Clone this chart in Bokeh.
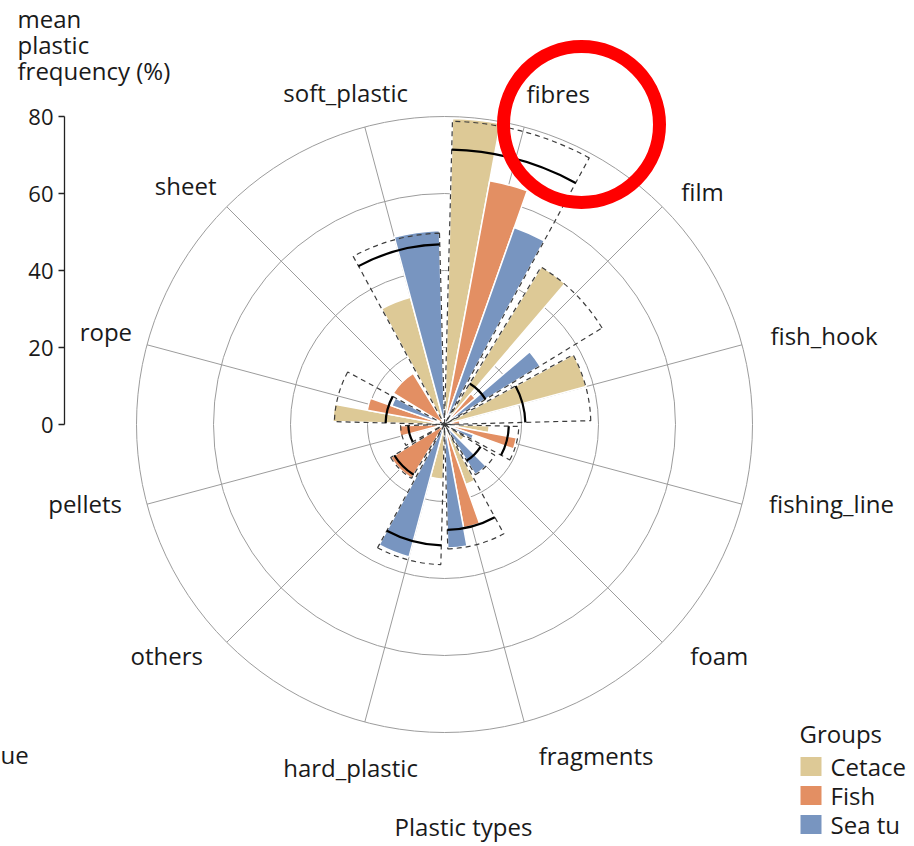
import math
from bokeh.plotting import figure
from bokeh.models import ColumnDataSource, Range1d
from bokeh.core.properties import value
from bokeh.embed import file_html
from bokeh.resources import INLINE

# ---------------- data ----------------
categories = ["fibres", "film", "fish_hook", "fishing_line", "foam", "fragments",
              "hard_plastic", "others", "pellets", "rope", "sheet", "soft_plastic"]
groups = ["Cetaceans", "Fish", "Sea turtles"]
legend_labels = ["Cetace", "Fish", "Sea tu"]      # as visible (cropped) in the reference
nan = float("nan")
cetaceans   = [79.5, 48.2, 38.1, 11.6, 6.0, 16.5, 14.2, nan, 3.0, 29.0, nan, 34.2]
fish        = [64.4, 10.5, 4.0, 19.0, nan, 27.3, nan, 16.4, 11.8, 20.4, 15.6, nan]
sea_turtles = [54.3, 29.1, nan, 8.0, 15.3, 32.1, 35.6, nan, nan, 14.5, nan, 50.4]
overall_mean = [71.4, 12.5, 21.0, 16.7, 11.0, 27.4, 31.4, 15.3, 9.4, 15.3, nan, 46.8]
upper_value  = [78.8, 48.0, 38.0, 19.3, 15.3, 32.3, 36.4, 16.4, 11.4, 28.6, nan, 49.7]
radial_ticks = [0, 20, 40, 60, 80]
axis_title = ["mean", "plastic", "frequency (%)"]

# ---------------- layout / style ----------------
W, H = 912, 846
S = 3.85                      # px per percent
CX, CY = 444.0, 424.0         # pole position on the canvas (px)
FONT = "Open Sans"
TXT = "#1a1a1a"
COLORS = {"Cetaceans": "#DDC996", "Fish": "#E38F63", "Sea turtles": "#7895C0"}
SECTOR, PAD = 30.0, 1.5
# category label placement: (compass angle, radius px, alignment)
LABEL_POS = [(13.9, 341, "left"), (45.5, 332, "left"), (74.7, 338, "left"),
             (103.7, 334, "left"), (133.2, 337, "left"), (164.1, 344, "left"),
             (195.3, 356, "center"), (226.3, 334, "right"), (256.3, 332, "right"),
             (286.6, 326, "right"), (316.3, 330, "right"), (343.4, 346, "center")]


def bk(c):
    """compass degrees (clockwise from north) -> bokeh radians"""
    return math.radians(90.0 - c)


def px(xp, yp):
    """canvas pixel position -> data coordinates"""
    return (xp - CX) / S, (CY - yp) / S


p = figure(width=W, height=H, output_backend="svg", toolbar_location=None,
           x_range=Range1d(-CX / S, (W - CX) / S),
           y_range=Range1d(-(H - CY) / S, CY / S),
           min_border=0, x_axis_location=None, y_axis_location=None)
p.grid.visible = False
p.outline_line_color = None
p.background_fill_color = "white"
p.border_fill_color = "white"

# grid circles and spokes
rmax = radial_ticks[-1]
p.circle(x=[0] * (len(radial_ticks) - 1), y=[0] * (len(radial_ticks) - 1),
         radius=radial_ticks[1:], fill_color=None, line_color="#9c9c9c", line_width=1)
spoke_angles = [SECTOR * k + SECTOR / 2 for k in range(len(categories))]
p.segment(x0=[0] * len(spoke_angles), y0=[0] * len(spoke_angles),
          x1=[rmax * math.sin(math.radians(a)) for a in spoke_angles],
          y1=[rmax * math.cos(math.radians(a)) for a in spoke_angles],
          line_color="#9c9c9c", line_width=1)

# bars
series = {"Cetaceans": cetaceans, "Fish": fish, "Sea turtles": sea_turtles}
bars = {g: dict(x=[], y=[], r=[], a0=[], a1=[]) for g in groups}
for k, cat in enumerate(categories):
    present = [g for g in groups if not math.isnan(series[g][k])]
    n = len(present)
    w = (SECTOR - 2 * PAD) / n
    for i, g in enumerate(present):
        c1 = SECTOR * k + PAD + i * w
        c2 = c1 + w
        bars[g]["x"].append(0)
        bars[g]["y"].append(0)
        bars[g]["r"].append(series[g][k])
        bars[g]["a0"].append(bk(c2))
        bars[g]["a1"].append(bk(c1))

renderers = {}
for g in groups:
    renderers[g] = p.wedge(x="x", y="y", radius="r", start_angle="a0", end_angle="a1",
                           direction="anticlock", source=ColumnDataSource(bars[g]),
                           fill_color=COLORS[g], line_color="white", line_width=1.5)

# dashed upper boxes and mean arcs
box = dict(x=[], y=[], r=[], a0=[], a1=[])
arc = dict(x=[], y=[], r=[], a0=[], a1=[])
for k in range(len(categories)):
    a0, a1 = bk(SECTOR * k + SECTOR - PAD), bk(SECTOR * k + PAD)
    if not math.isnan(upper_value[k]):
        for key, v in zip(["x", "y", "r", "a0", "a1"], [0, 0, upper_value[k], a0, a1]):
            box[key].append(v)
    if not math.isnan(overall_mean[k]):
        for key, v in zip(["x", "y", "r", "a0", "a1"], [0, 0, overall_mean[k], a0, a1]):
            arc[key].append(v)
p.wedge(x="x", y="y", radius="r", start_angle="a0", end_angle="a1", direction="anticlock",
        source=ColumnDataSource(box), fill_color=None, line_color="#3c3c3c",
        line_width=1.2, line_dash="5 4")
p.arc(x="x", y="y", radius="r", start_angle="a0", end_angle="a1", direction="anticlock",
      source=ColumnDataSource(arc), line_color="black", line_width=2.2)

# category labels
for align in ["left", "center", "right"]:
    xs, ys, ts = [], [], []
    for cat, (ang, rpx, al) in zip(categories, LABEL_POS):
        if al == align:
            xs.append(rpx / S * math.sin(math.radians(ang)))
            ys.append(rpx / S * math.cos(math.radians(ang)))
            ts.append(cat)
    p.text(x=xs, y=ys, text=ts, text_font=value(FONT), text_font_size="24px",
           text_color=TXT, text_align=align, text_baseline="middle")

# radial axis on the left
AXX = px(64, 0)[0]
p.segment(x0=[AXX], y0=[radial_ticks[0]], x1=[AXX], y1=[radial_ticks[-1]],
          line_color="#222222", line_width=1.3)
p.segment(x0=[AXX - 6 / S] * len(radial_ticks), y0=radial_ticks,
          x1=[AXX] * len(radial_ticks), y1=radial_ticks, line_color="#222222", line_width=1.3)
p.text(x=[AXX - 11 / S] * len(radial_ticks), y=radial_ticks, text=[str(t) for t in radial_ticks],
       text_font=value(FONT), text_font_size="22px", text_color=TXT,
       text_align="right", text_baseline="middle")
tx, _ = px(17, 0)
p.text(x=[tx] * 3, y=[px(0, 18)[1], px(0, 44)[1], px(0, 70)[1]], text=axis_title,
       text_font=value(FONT), text_font_size="24px", text_color=TXT,
       text_align="left", text_baseline="middle")

# x title and stray caption fragment
xt, yt = px(463, 826)
p.text(x=[xt], y=[yt], text=["Plastic types"],
       text_font=value(FONT), text_font_size="24px", text_color=TXT,
       text_align="center", text_baseline="middle")
xu, yu = px(0, 754)
p.text(x=[xu], y=[yu], text=["ue"],
       text_font=value(FONT), text_font_size="24px", text_color=TXT,
       text_align="left", text_baseline="middle")

# red highlight circle around "fibres"
xc, yc = px(581, 124)
p.circle(x=[xc], y=[yc], radius=78 / S,
         fill_color=None, line_color="#FF0000", line_width=13)

# legend (drawn by hand for exact spacing)
LEG_X, LEG_TITLE_Y, LEG_Y0, LEG_DY = 800, 733, 766, 29
lx, ly = px(LEG_X - 1, LEG_TITLE_Y)
p.text(x=[lx], y=[ly], text=["Groups"], text_font=value(FONT), text_font_size="24px",
       text_color=TXT, text_align="left", text_baseline="middle")
for i, g in enumerate(groups):
    sx, sy = px(LEG_X + 10.5, LEG_Y0 + i * LEG_DY)
    p.rect(x=[sx], y=[sy], width=21 / S, height=19 / S, fill_color=COLORS[g], line_color=None)
    tx2, ty2 = px(LEG_X + 30, LEG_Y0 + i * LEG_DY)
    p.text(x=[tx2], y=[ty2], text=[legend_labels[i]], text_font=value(FONT),
           text_font_size="24px", text_color=TXT, text_align="left", text_baseline="middle")

open("out.html", "w").write(file_html(p, INLINE))
